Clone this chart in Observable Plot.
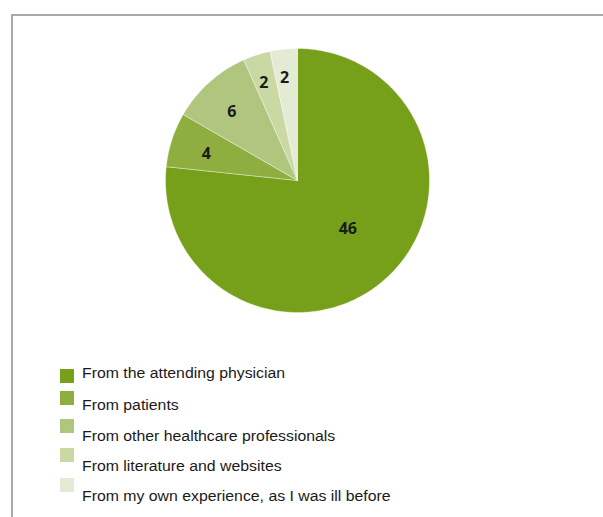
<!DOCTYPE html>
<html>
<head>
<meta charset="utf-8">
<script src="https://cdn.jsdelivr.net/npm/d3@7"></script>
<script src="https://cdn.jsdelivr.net/npm/@observablehq/plot@0.6"></script>
<style>
  html, body { margin: 0; padding: 0; background: #fff; }
  #wrap { position: relative; width: 603px; height: 517px; overflow: hidden; }
  #frame { position: absolute; left: 11px; top: 14px; right: -5px; bottom: -5px;
           border-left: 2px solid #a9a9a9; border-top: 2px solid #a9a9a9; }
  #chart { position: absolute; left: 0; top: 0; }
  #legend { position: absolute; left: 0; top: 0; width: 603px; height: 517px;
            font-family: Arial, "Liberation Sans", sans-serif; font-size: 14px; color: #1a1a1a; }
  .row { position: absolute; left: 82px; white-space: nowrap; line-height: 16px;
         transform: scaleX(1.13); transform-origin: 0 50%; }
  .sw { position: absolute; left: 60px; width: 14px; height: 14px; }
</style>
</head>
<body>
<div id="wrap">
  <div id="frame"></div>
  <div id="chart"></div>
  <div id="legend"></div>
</div>
<script>
const categories = [
  "From the attending physician",
  "From patients",
  "From other healthcare professionals",
  "From literature and websites",
  "From my own experience, as I was ill before"
];
const values = [46, 4, 6, 2, 2];
const colors = ["#76a01a", "#8fae40", "#b0c67f", "#cad9a4", "#e4ebd5"];

const W = 603, H = 330, CX = 297, CY = 180, R = 132;

const total = d3.sum(values);
let acc = 0;
const slices = values.map((v, i) => {
  const a0 = acc / total * 2 * Math.PI;
  acc += v;
  const a1 = acc / total * 2 * Math.PI;
  return {label: categories[i], value: v, a0, a1};
});

// polygon vertices for each slice (center + arc), angles clockwise from 12 o'clock
const pts = [];
for (const s of slices) {
  pts.push({label: s.label, x: 0, y: 0});
  const n = Math.max(2, Math.ceil((s.a1 - s.a0) / (Math.PI / 180)));
  for (let k = 0; k <= n; k++) {
    const a = s.a0 + (s.a1 - s.a0) * k / n;
    pts.push({label: s.label, x: Math.sin(a), y: Math.cos(a)});
  }
  pts.push({label: s.label, x: 0, y: 0});
}

const labels = slices.map(s => {
  const frac = s.value / total;
  const m = (s.a0 + s.a1) / 2 - (frac > 0.5 ? 0.07 : (frac < 0.05 ? 0.02 : 0.03));
  const f = frac > 0.5 ? 0.53 : (frac < 0.05 ? 0.78 : 0.72);
  return {text: String(s.value), x: f * Math.sin(m), y: f * Math.cos(m)};
});

const plot = Plot.plot({
  width: W, height: H,
  margin: 0,
  x: {domain: [-CX / R, (W - CX) / R], axis: null},
  y: {domain: [-(H - CY) / R, CY / R], axis: null},
  color: {domain: categories, range: colors},
  style: {background: "transparent"},
  marks: [
    Plot.line(pts, {x: "x", y: "y", z: "label", fill: "label", stroke: "#ffffff", strokeWidth: 0.6, strokeOpacity: 0.6, curve: "linear-closed"}),
    Plot.text(labels, {x: "x", y: "y", text: "text", fill: "#1a1a1a", fontSize: 16, fontFamily: "'Open Sans', sans-serif", fontWeight: "bold"})
  ]
});
document.getElementById("chart").appendChild(plot);

// legend
const legend = document.getElementById("legend");
const textY = [365, 397, 428, 458, 488];
const swY = [369, 391, 419, 448, 478];
categories.forEach((c, i) => {
  const sw = document.createElement("div");
  sw.className = "sw";
  sw.style.top = swY[i] + "px";
  sw.style.background = colors[i];
  legend.appendChild(sw);
  const t = document.createElement("div");
  t.className = "row";
  t.style.top = textY[i] + "px";
  t.textContent = c;
  legend.appendChild(t);
});
</script>
</body>
</html>
